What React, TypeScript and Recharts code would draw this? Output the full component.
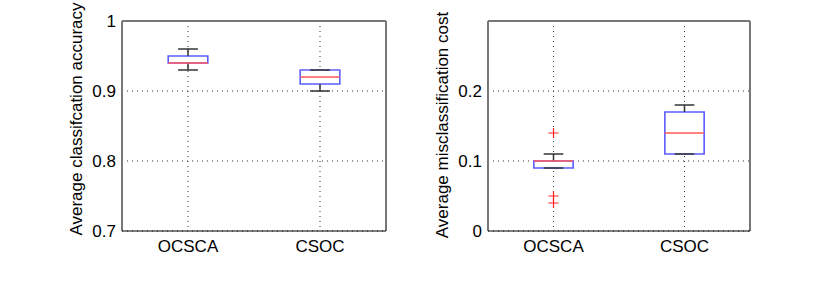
import { ComposedChart, XAxis, YAxis, CartesianGrid, ReferenceArea, ReferenceLine, Scatter } from "recharts"

const categories = ["OCSCA", "CSOC"]

// accuracy boxplot stats per category
const accuracyLow = [0.93, 0.9]
const accuracyQ1 = [0.94, 0.91]
const accuracyMedian = [0.94, 0.92]
const accuracyQ3 = [0.95, 0.93]
const accuracyHigh = [0.96, 0.93]
const accuracyOutliers: number[][] = [[], []]
const accuracyTicks = [0.7, 0.8, 0.9, 1]

// misclassification cost boxplot stats
const costLow = [0.09, 0.11]
const costQ1 = [0.09, 0.11]
const costMedian = [0.1, 0.14]
const costQ3 = [0.1, 0.17]
const costHigh = [0.11, 0.18]
const costOutliers: number[][] = [[0.14, 0.05, 0.04], []]
const costTicks = [0, 0.1, 0.2]

const BOX_HALF = 0.15
const CAP_HALF = 0.075
const FONT = "'Liberation Sans', Arial, sans-serif"

type PanelProps = {
  left: number
  width: number
  axisWidth: number
  rightMargin: number
  domain: [number, number]
  ticks: number[]
  title: string
  titleX: number
  titleY: number
  low: number[]
  q1: number[]
  median: number[]
  q3: number[]
  high: number[]
  outliers: number[][]
}

const Plus = (props: any) => {
  const { cx, cy } = props
  return <path d={`M${cx - 5},${cy}H${cx + 5}M${cx},${cy - 5}V${cy + 5}`} stroke="#ff2020" strokeWidth={1.2} fill="none" />
}

function BoxPanel(p: PanelProps) {
  const points = p.outliers.flatMap((vals, i) => vals.map((v) => ({ x: i + 1, y: v })))
  const [y0, y1] = p.domain
  return (
    <div style={{ position: "absolute", left: p.left, top: 0 }}>
      <ComposedChart width={p.width} height={284} data={points} margin={{ top: 21, right: p.rightMargin, bottom: 0, left: 0 }}>
        <CartesianGrid strokeDasharray="1 4" stroke="#333" />
        <XAxis
          type="number"
          dataKey="x"
          domain={[0.5, 2.5]}
          ticks={[1, 2]}
          allowDataOverflow
          height={53}
          tickSize={0}
          tickMargin={9}
          tickFormatter={(v: number) => categories[v - 1]}
          tick={{ fill: "#000", fontSize: 17, fontFamily: FONT }}
          axisLine={{ stroke: "#000", strokeWidth: 1 }}
        />
        <YAxis
          type="number"
          dataKey="y"
          domain={p.domain}
          ticks={p.ticks}
          allowDataOverflow
          width={p.axisWidth}
          tickSize={0}
          tickMargin={6}
          axisLine={false}
          tick={{ fill: "#000", fontSize: 17, fontFamily: FONT }}
          label={{
            content: () => (
              <text
                transform={`translate(${p.titleX},${p.titleY}) rotate(-90)`}
                textAnchor="middle"
                dominantBaseline="central"
                fontSize={17}
                fontFamily={FONT}
                fill="#000"
              >
                {p.title}
              </text>
            ),
          }}
        />
        {/* frame: top, left, right */}
        <ReferenceLine segment={[{ x: 0.5, y: y1 }, { x: 2.5, y: y1 }]} stroke="#777" strokeWidth={2} ifOverflow="visible" />
        <ReferenceLine segment={[{ x: 0.5, y: y0 }, { x: 0.5, y: y1 }]} stroke="#777" strokeWidth={2} ifOverflow="visible" />
        <ReferenceLine segment={[{ x: 2.5, y: y0 }, { x: 2.5, y: y1 }]} stroke="#777" strokeWidth={2} ifOverflow="visible" />
        {categories.map((_, i) => {
          const x = i + 1
          return [
            <ReferenceLine key={`wl${i}`} segment={[{ x, y: p.low[i] }, { x, y: p.q1[i] }]} stroke="#333" strokeWidth={1.5} />,
            <ReferenceLine key={`wh${i}`} segment={[{ x, y: p.q3[i] }, { x, y: p.high[i] }]} stroke="#333" strokeWidth={1.5} />,
            <ReferenceLine key={`cl${i}`} segment={[{ x: x - CAP_HALF, y: p.low[i] }, { x: x + CAP_HALF, y: p.low[i] }]} stroke="#333" strokeWidth={1.5} />,
            <ReferenceLine key={`ch${i}`} segment={[{ x: x - CAP_HALF, y: p.high[i] }, { x: x + CAP_HALF, y: p.high[i] }]} stroke="#333" strokeWidth={1.5} />,
            <ReferenceArea
              key={`b${i}`}
              x1={x - BOX_HALF}
              x2={x + BOX_HALF}
              y1={p.q1[i]}
              y2={p.q3[i]}
              fill="#fff"
              fillOpacity={1}
              stroke="#5c5cff"
              strokeWidth={1.6}
            />,
            <ReferenceLine key={`m${i}`} segment={[{ x: x - BOX_HALF, y: p.median[i] }, { x: x + BOX_HALF, y: p.median[i] }]} stroke="#ff5a5a" strokeWidth={1.6} />,
          ]
        })}
        <Scatter dataKey="y" fill="#ff2020" shape={<Plus />} isAnimationActive={false} />
      </ComposedChart>
    </div>
  )
}

export default function App() {
  return (
    <div style={{ position: "absolute", left: 0, top: 0, width: 830, height: 284, background: "#fff", fontFamily: FONT }}>
      <BoxPanel
        left={0}
        width={410}
        axisWidth={122}
        rightMargin={24}
        domain={[0.7, 1]}
        ticks={accuracyTicks}
        title="Average classifcation accuracy"
        titleX={76}
        titleY={119}
        low={accuracyLow}
        q1={accuracyQ1}
        median={accuracyMedian}
        q3={accuracyQ3}
        high={accuracyHigh}
        outliers={accuracyOutliers}
      />
      <BoxPanel
        left={410}
        width={420}
        axisWidth={78}
        rightMargin={80}
        domain={[0, 0.3]}
        ticks={costTicks}
        title="Average misclassification cost"
        titleX={32.5}
        titleY={125}
        low={costLow}
        q1={costQ1}
        median={costMedian}
        q3={costQ3}
        high={costHigh}
        outliers={costOutliers}
      />
    </div>
  )
}
